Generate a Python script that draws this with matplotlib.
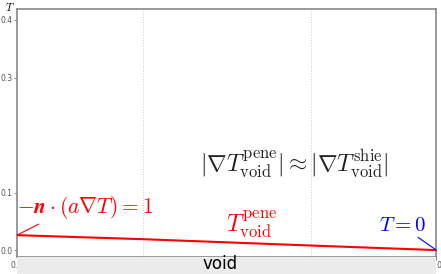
import matplotlib
matplotlib.use('Agg')
import matplotlib.pyplot as plt
from matplotlib.patches import Rectangle

plt.rcParams['mathtext.fontset'] = 'cm'

x = [0.0, 0.3, 0.7, 1.0]
T = [0.026, 0.019, 0.008, 0.0]
xticks = [0.0, 0.3, 0.7, 1.0]
yticks = [0.0, 0.1, 0.3, 0.4]

fig = plt.figure(figsize=(4.41, 2.74), dpi=100)
ax = fig.add_axes([0.0385, 0.062, 0.951, 0.905])

# grey band behind the x label
fig.patches.append(Rectangle((0.0385, 0.0), 0.951, 0.062, transform=fig.transFigure,
                             facecolor='#ebebeb', edgecolor='none', zorder=0))

ax.plot(x, T, color='red', lw=1.5, zorder=3)
ax.set_xlim(0, 1)
ax.set_ylim(-0.012, 0.419)
ax.set_xticks(xticks)
ax.set_yticks(yticks)
ax.tick_params(labelsize=5.5, length=2, width=0.6, pad=1, colors='#777777')
for lbl in ax.get_xticklabels() + ax.get_yticklabels():
    lbl.set_color('#555555')
for s in ax.spines.values():
    s.set_color('#888888')
    s.set_linewidth(1.2)
for xv in [0.3, 0.7]:
    ax.axvline(xv, color='#cccccc', lw=0.7, ls=':', zorder=1)

fig.text(0.5, 0.003, 'void', ha='center', va='bottom', fontsize=12, color='black')
fig.text(0.012, 0.998, '$T$', fontsize=8, ha='left', va='top')

ax.annotate(r'$-\boldsymbol{n}\cdot(a\nabla T)=1$', xy=(0, 0.026), xytext=(0.0, 0.05),
            color='red', fontsize=15.5, ha='left', va='bottom',
            arrowprops=dict(arrowstyle='-', color='red', lw=0.8, shrinkA=0, shrinkB=0,
                            relpos=(0.2, 0.0)))
ax.text(0.56, 0.017, r'$T^{\rm pene}_{\rm void}$', color='red', fontsize=17,
        ha='center', va='bottom')
ax.annotate(r'$T=0$', xy=(1.0, 0.0), xytext=(0.975, 0.027), color='blue', fontsize=15,
            ha='right', va='bottom',
            arrowprops=dict(arrowstyle='-', color='blue', lw=0.8, shrinkA=0, shrinkB=0,
                            relpos=(0.75, 0.0)))
ax.text(0.66, 0.15, r'$|\nabla T^{\rm pene}_{\rm void}|\approx|\nabla T^{\rm shie}_{\rm void}|$',
        fontsize=17, ha='center', va='center', color='#222222')

fig.savefig('out.png', dpi=100)
